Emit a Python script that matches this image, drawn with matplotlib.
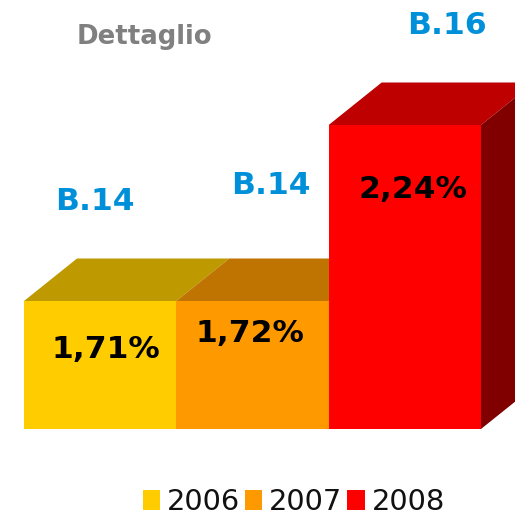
import matplotlib
matplotlib.use('Agg')
import matplotlib.pyplot as plt
from matplotlib.patches import Polygon, Patch

years = ['2006', '2007', '2008']
heights = [128, 128, 304]   # altezza barre
pct_labels = ['1,71%', '1,72%', '2,24%']
code_labels = ['B.14', 'B.14', 'B.16']
front_colors = ['#FFCC00', '#FF9900', '#FF0000']
top_colors = ['#BF9900', '#BF7300', '#BF0000']
side_color = '#800000'

W = 515.0
px = 1 / W
depth_x = 53 / 152.33    # profondita 3D in unita x
depth_y = 42.5

fig = plt.figure(figsize=(5.15, 5.15), dpi=100)
ax = fig.add_axes([24 * px, (W - 429) * px, 457 * px, 304 * px])
ax.set_xlim(0, 3)
ax.set_ylim(0, 304)
ax.axis('off')

x = [0, 1, 2]
ax.bar(x, heights, width=1, align='edge', color=front_colors, linewidth=0, zorder=3)

for i in x:
    h = heights[i]
    top = Polygon([(i, h), (i + 1, h), (i + 1 + depth_x, h + depth_y), (i + depth_x, h + depth_y)],
                  closed=True, facecolor=top_colors[i], edgecolor='none', clip_on=False, zorder=2 + i * 0.1)
    ax.add_patch(top)

# lato destro solo sull'ultima barra
side = Polygon([(3, 0), (3 + depth_x, depth_y), (3 + depth_x, heights[2] + depth_y), (3, heights[2])],
               closed=True, facecolor=side_color, edgecolor='none', clip_on=False, zorder=2.5)
ax.add_patch(side)

pct_pos = [(105.5, 350), (250, 334), (413, 189)]
code_pos = [(94.5, 201.5), (270.5, 185.5), (447, 25.5)]

for i in range(3):
    fig.text(pct_pos[i][0] * px, 1 - pct_pos[i][1] * px, pct_labels[i], fontsize=22.6, fontweight='bold',
             color='black', ha='center', va='center', zorder=10)
    fig.text(code_pos[i][0] * px, 1 - code_pos[i][1] * px, code_labels[i], fontsize=22.6, fontweight='bold',
             color='#0090DA', ha='center', va='center', zorder=10)

fig.text(144.5 * px, 1 - 37.5 * px, 'Dettaglio', fontsize=18.7, fontweight='bold', color='#808080',
         ha='center', va='center')

handles = [Patch(facecolor=c, edgecolor='none') for c in front_colors]
fig.legend(handles, years, ncol=3, frameon=False, fontsize=20.8, loc='center',
           bbox_to_anchor=(294 * px, 1 - 502 * px), borderpad=0, handlelength=0.59, handleheight=0.7,
           handletextpad=0.24, columnspacing=0.17, labelcolor='#111111')

fig.savefig('out.png', dpi=100)
